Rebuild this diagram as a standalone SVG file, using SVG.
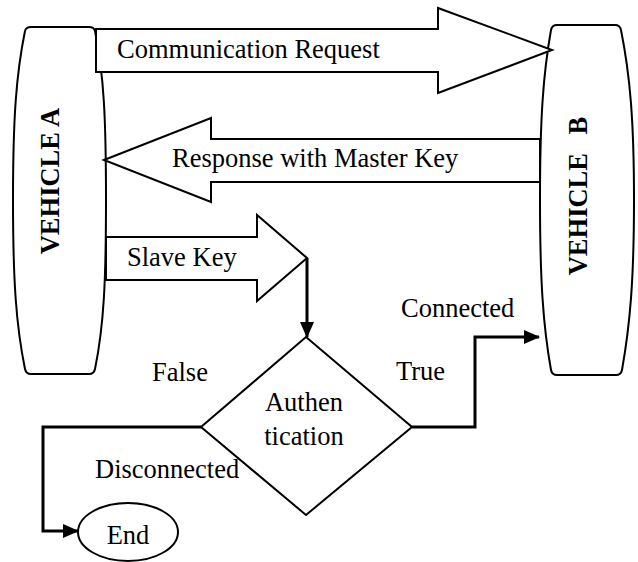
<svg xmlns="http://www.w3.org/2000/svg" width="638" height="562" viewBox="0 0 638 562">
  <style>
    .shape { fill: #fff; stroke: #000; stroke-width: 2; stroke-linejoin: miter; }
    .flow { fill: none; stroke: #000; stroke-width: 3; }
    .lbl { font-family: "Liberation Serif", "Times New Roman", serif; font-size: 26.5px; fill: #000; }
    .veh { font-family: "Liberation Serif", "Times New Roman", serif; font-size: 26.5px; font-weight: bold; fill: #000; }
  </style>
  <defs>
    <marker id="head" markerUnits="userSpaceOnUse" markerWidth="16" markerHeight="14" refX="15" refY="7" orient="auto">
      <path d="M0,0 L16,7 L0,14 Z" fill="#000"/>
    </marker>
  </defs>

  <!-- vehicle blocks -->
  <g id="vehicle-a">
    <path class="shape" d="M31,27 L89,27 Q94,27 95,31 C104,75 106,120 106,200 C106,280 104,325 95,369 Q94,374 89,374 L31,374 Q26,374 25,369 C16,325 13,280 13,200 C13,120 16,75 25,31 Q26,27 31,27 Z"/>
    <text class="veh" transform="translate(59,181) rotate(-90)" text-anchor="middle">VEHICLE A</text>
  </g>
  <g id="vehicle-b">
    <path class="shape" d="M557,25 L615,25 Q620,25 621,30 C630,75 634,120 634,200 C634,280 630,325 622,370 Q621,375 616,375 L557,375 Q552,375 551,370 C543,325 540,280 540,200 C540,120 543,75 551,30 Q552,25 557,25 Z"/>
    <text class="veh" transform="translate(587,196) rotate(-90)" text-anchor="middle">VEHICLE <tspan dx="12">B</tspan></text>
  </g>

  <!-- block arrows carrying the messages -->
  <g id="communication-request">
    <path class="shape" d="M96,29 L438,29 L438,8 L552,50 L438,93 L438,72 L96,72 Z"/>
    <text class="lbl" x="117" y="58">Communication Request</text>
  </g>
  <g id="response-master-key">
    <path class="shape" d="M104,160 L211,118 L211,139 L540,139 L540,182 L211,182 L211,202 Z"/>
    <text class="lbl" x="172" y="167">Response with Master Key</text>
  </g>
  <g id="slave-key">
    <path class="shape" d="M106,237 L257,237 L257,215 L307,258 L257,301 L257,280 L106,280 Z"/>
    <text class="lbl" x="127" y="266">Slave Key</text>
  </g>

  <!-- decision -->
  <g id="authentication">
    <path class="shape" d="M306,337 L412,427 L306,515 L201,427 Z"/>
    <text class="lbl" x="304" y="411" text-anchor="middle">Authen</text>
    <text class="lbl" x="304" y="445" text-anchor="middle">tication</text>
  </g>

  <!-- terminator -->
  <g id="end">
    <ellipse class="shape" cx="128" cy="532" rx="50" ry="29"/>
    <text class="lbl" x="128" y="544" text-anchor="middle">End</text>
  </g>

  <!-- connectors -->
  <g id="connectors">
    <path class="flow" d="M307,258 L307,337" marker-end="url(#head)"/>
    <path class="flow" d="M412,427 L475,427 L475,337 L539,337" marker-end="url(#head)"/>
    <path class="flow" d="M201,427 L43,427 L43,531 L78,531" marker-end="url(#head)"/>
  </g>

  <!-- branch labels -->
  <g id="branch-labels">
    <text class="lbl" x="152" y="381">False</text>
    <text class="lbl" x="396" y="380">True</text>
    <text class="lbl" x="401" y="317">Connected</text>
    <text class="lbl" x="95" y="478">Disconnected</text>
  </g>
</svg>
